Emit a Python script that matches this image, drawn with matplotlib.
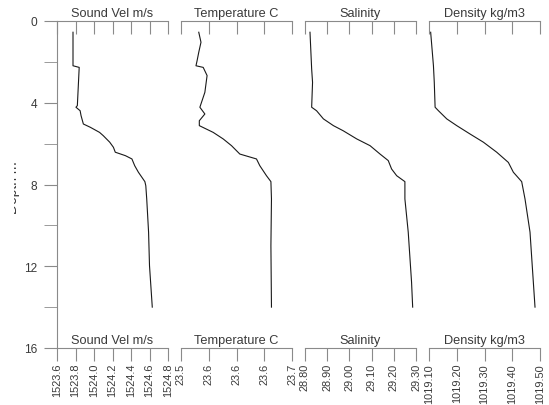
import matplotlib
matplotlib.use("Agg")
import matplotlib.pyplot as plt
from matplotlib.transforms import Bbox, TransformedBbox

plt.rcParams['font.family'] = ['Liberation Sans', 'DejaVu Sans']

# CTD cast profiles (depth in m)
sv_depth = [0.55, 2.19, 2.27, 4.14, 4.22, 4.39, 4.63, 5.04, 5.20, 5.45, 5.61, 5.93,
            6.18, 6.42, 6.59, 6.75, 7.08, 7.40, 7.86, 8.06, 8.71, 10.33, 11.97, 14.0]
sound_vel = [1523.773, 1523.773, 1523.84, 1523.82, 1523.805, 1523.85, 1523.86, 1523.885,
             1523.96, 1524.06, 1524.10, 1524.17, 1524.21, 1524.23, 1524.34, 1524.41,
             1524.44, 1524.48, 1524.55, 1524.56, 1524.57, 1524.59, 1524.60, 1524.63]

t_depth = [0.55, 1.04, 1.53, 1.94, 2.19, 2.27, 2.67, 3.49, 4.22, 4.55, 4.88, 5.12,
           5.45, 5.77, 6.10, 6.51, 6.75, 7.08, 7.57, 7.86, 8.71, 11.0, 14.0]
temperature = [23.532, 23.536, 23.532, 23.529, 23.527, 23.540, 23.547, 23.543, 23.534,
               23.543, 23.533, 23.533, 23.558, 23.576, 23.591, 23.606, 23.636, 23.642,
               23.654, 23.662, 23.663, 23.662, 23.663]

s_depth = [0.55, 2.35, 3.0, 4.22, 4.39, 4.79, 5.12, 5.37, 5.77, 6.10, 6.51, 6.83,
           7.24, 7.57, 7.86, 8.71, 10.33, 12.78, 14.0]
salinity = [28.8225, 28.830, 28.834, 28.830, 28.852, 28.883, 28.928, 28.972, 29.033,
            29.093, 29.138, 29.175, 29.190, 29.213, 29.250, 29.250, 29.265, 29.280, 29.285]

d_depth = [0.55, 2.19, 3.0, 4.22, 4.39, 4.79, 5.12, 5.53, 5.93, 6.42, 6.92, 7.40,
           7.86, 8.71, 10.33, 12.78, 14.0]
density = [1019.106, 1019.116, 1019.119, 1019.122, 1019.134, 1019.164, 1019.200,
           1019.248, 1019.296, 1019.344, 1019.386, 1019.404, 1019.434, 1019.446,
           1019.464, 1019.476, 1019.482]

titles = ['Sound Vel m/s', 'Temperature C', 'Salinity', 'Density kg/m3']
tick_vals = [
    [1523.6, 1523.8, 1524.0, 1524.2, 1524.4, 1524.6, 1524.8],
    [23.5, 23.55, 23.6, 23.65, 23.7],
    [28.80, 28.90, 29.00, 29.10, 29.20, 29.30],
    [1019.10, 1019.20, 1019.30, 1019.40, 1019.50],
]
tick_labels = [
    ['1523.6', '1523.8', '1524.0', '1524.2', '1524.4', '1524.6', '1524.8'],
    ['23.5', '23.6', '23.6', '23.6', '23.7'],
    ['28.80', '28.90', '29.00', '29.10', '29.20', '29.30'],
    ['1019.10', '1019.20', '1019.30', '1019.40', '1019.50'],
]
profiles = [(sv_depth, sound_vel), (t_depth, temperature),
            (s_depth, salinity), (d_depth, density)]

depth_major = [0, 4, 8, 12, 16]
depth_minor = [2, 6, 10, 14]

W, H = 549, 406
gray = '#8a8a8a'
txt = '#3a3a3a'
fs = 7.9
tlen = 9.2

fig = plt.figure(figsize=(W / 100, H / 100), dpi=100)
panel_left = [57, 181, 305, 429]
pw, top_px, bot_px = 111, 22, 349

for i, x0 in enumerate(panel_left):
    ax = fig.add_axes([x0 / W, (H - bot_px) / H, pw / W, (bot_px - top_px) / H])
    ax.patch.set_visible(False)
    ticks = tick_vals[i]
    ax.set_xlim(ticks[0], ticks[-1])
    ax.set_ylim(16, 0)

    depth, vals = profiles[i]
    ax.plot(vals, depth, color='#1a1a1a', lw=0.8)

    for s in ['top', 'right']:
        ax.spines[s].set_visible(False)
    ax.spines['bottom'].set_color(gray)
    ax.spines['left'].set_color(gray)

    ax.set_xticks(ticks, tick_labels[i])
    ax.tick_params(axis='x', direction='out', length=tlen, color=gray,
                   labelsize=fs, labelcolor=txt, labelrotation=90, pad=1.5)

    if i == 0:
        ax.set_yticks(depth_major)
        ax.set_yticks(depth_minor, minor=True)
        ax.tick_params(axis='y', which='both', direction='out', length=tlen,
                       color=gray, labelsize=8.6, labelcolor=txt, pad=5)
    else:
        ax.spines['left'].set_visible(False)
        ax.set_yticks([])

    # upper bracket with inward ticks
    sec = ax.secondary_xaxis('top')
    sec.set_xticks(ticks)
    sec.tick_params(direction='in', length=tlen, color=gray, labeltop=False)
    sec.spines['top'].set_color(gray)

    for yy in (1, 0):
        ax.annotate(titles[i], xy=(0.5, yy), xycoords='axes fraction',
                    xytext=(0, 1.5), textcoords='offset points',
                    ha='center', va='bottom', fontsize=9.2, color=txt)

# depth label, cut off at the left
lab = fig.text(20.5 / W, 1 - 188 / H, 'Depth m', rotation=90, ha='right',
               va='center', fontsize=10, color=txt)
lab.set_clip_on(True)
lab.set_clip_box(TransformedBbox(Bbox([[14 / W, 0], [1, 1]]), fig.transFigure))

fig.savefig('out.png', dpi=100)
